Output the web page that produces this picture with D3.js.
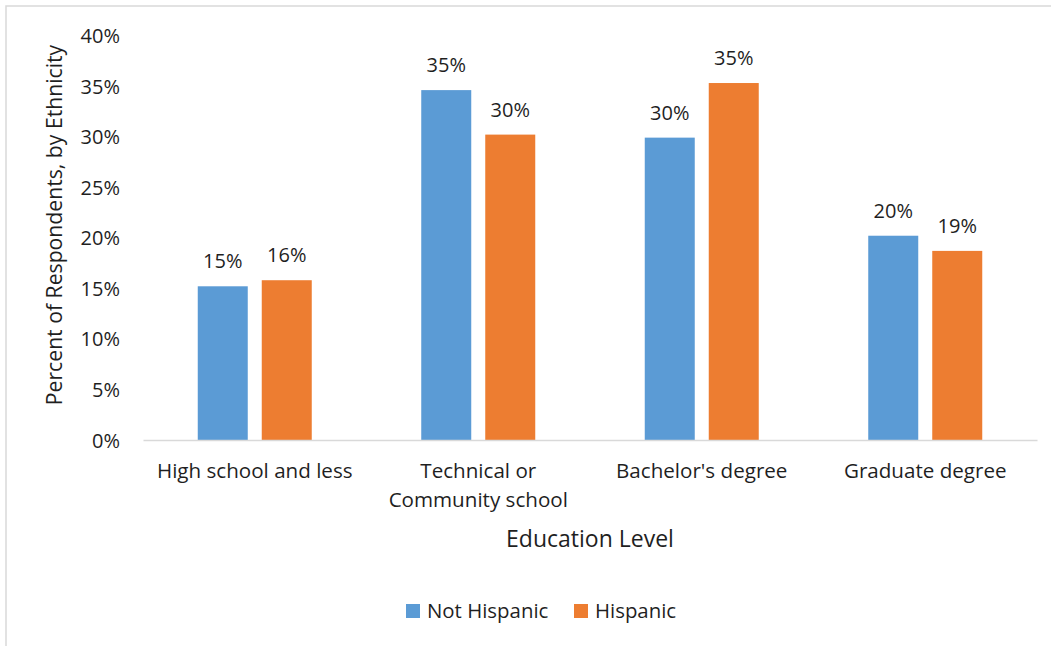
<!DOCTYPE html>
<html>
<head>
<meta charset="utf-8">
<script src="https://cdn.jsdelivr.net/npm/d3@7/dist/d3.min.js"></script>
<style>
  html, body { margin: 0; padding: 0; background: #fff; }
  svg { display: block; font-family: "Open Sans", sans-serif; }
</style>
</head>
<body>
<svg id="chart" width="1051" height="646"></svg>
<script>
const categories = [["High school and less"], ["Technical or", "Community school"], ["Bachelor's degree"], ["Graduate degree"]];
const categoryKeys = ["High school and less", "Technical or Community school", "Bachelor's degree", "Graduate degree"];
const seriesNames = ["Not Hispanic", "Hispanic"];
const notHispanic = [15.2, 34.6, 29.9, 20.2];
const hispanic = [15.8, 30.2, 35.3, 18.7];
const notHispanicLabels = ["15%", "35%", "30%", "20%"];
const hispanicLabels = ["16%", "30%", "35%", "19%"];
const yTicks = [0, 5, 10, 15, 20, 25, 30, 35, 40];
const colors = ["#5B9BD5", "#ED7D31"];
const textColor = "#1f1f1f";

const svg = d3.select("#chart");

// outer frame
svg.append("rect").attr("x", 6).attr("y", 6).attr("width", 1100).attr("height", 700)
  .attr("fill", "none").attr("stroke", "#d9d9d9").attr("stroke-width", 1.5);

const plot = { left: 143, right: 1037, top: 35.5, bottom: 440 };

const x0 = d3.scaleBand().domain(categoryKeys).range([plot.left, plot.right]).paddingInner(0).paddingOuter(0);
const x1 = d3.scaleBand().domain(seriesNames).range([x0.bandwidth() / 2 - 57, x0.bandwidth() / 2 + 57]).paddingInner(0.21875).paddingOuter(0);
const y = d3.scaleLinear().domain([0, 40]).range([plot.bottom, plot.top]);

// y axis labels
const yAxis = d3.axisLeft(y).tickValues(yTicks).tickFormat(d => d + "%").tickSize(0).tickPadding(0);
const ya = svg.append("g").attr("transform", `translate(120,0)`).call(yAxis);
ya.select(".domain").remove();
ya.selectAll("text").attr("font-size", 20).attr("fill", textColor).attr("font-family", "Open Sans, sans-serif").attr("dy", "0.35em");

const series = [notHispanic, hispanic];
const labels = [notHispanicLabels, hispanicLabels];

const groups = svg.append("g").selectAll("g").data(categoryKeys).join("g")
  .attr("transform", d => `translate(${x0(d)},0)`);

groups.each(function(cat, i) {
  const g = d3.select(this);
  seriesNames.forEach((s, j) => {
    const v = series[j][i];
    g.append("rect")
      .attr("x", x1(s)).attr("width", x1.bandwidth())
      .attr("y", y(v)).attr("height", y(0) - y(v))
      .attr("fill", colors[j]);
    g.append("text")
      .attr("x", x1(s) + x1.bandwidth() / 2)
      .attr("y", y(v) - 18)
      .attr("text-anchor", "middle")
      .attr("font-size", 20).attr("fill", textColor)
      .text(labels[j][i]);
  });
});

// baseline
const xAxis = d3.axisBottom(x0).tickSize(0).tickFormat("");
const xa = svg.append("g").attr("transform", `translate(0,${plot.bottom})`).call(xAxis);
xa.select(".domain").attr("stroke", "#d9d9d9").attr("stroke-width", 1.5);

// category labels
categoryKeys.forEach((k, i) => {
  const t = svg.append("text")
    .attr("x", x0(k) + x0.bandwidth() / 2)
    .attr("y", 478)
    .attr("text-anchor", "middle")
    .attr("font-size", 20.6).attr("fill", textColor);
  categories[i].forEach((line, li) => {
    t.append("tspan").attr("x", x0(k) + x0.bandwidth() / 2).attr("dy", li === 0 ? 0 : 29).text(line);
  });
});

// axis titles
svg.append("text").attr("x", 590).attr("y", 547)
  .attr("text-anchor", "middle").attr("font-size", 23).attr("fill", textColor)
  .text("Education Level");

svg.append("text").attr("transform", `translate(62,225) rotate(-90)`)
  .attr("text-anchor", "middle").attr("font-size", 21.2).attr("fill", textColor)
  .text("Percent of Respondents, by Ethnicity");

// legend
const legendX = [406, 574];
seriesNames.forEach((s, j) => {
  svg.append("rect").attr("x", legendX[j]).attr("y", 604).attr("width", 14).attr("height", 14).attr("fill", colors[j]);
  svg.append("text").attr("x", legendX[j] + 21).attr("y", 618)
    .attr("font-size", 20.4).attr("fill", textColor).text(s);
});
</script>
</body>
</html>
